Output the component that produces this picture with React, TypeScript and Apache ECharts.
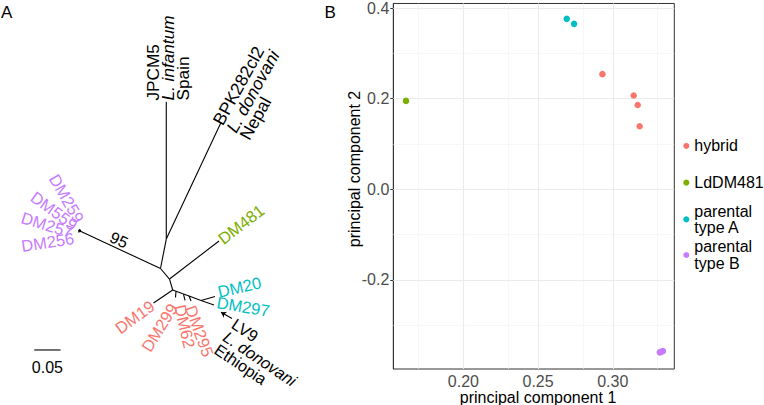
import React, { useEffect, useRef } from 'react';
import * as echarts from 'echarts';

const FONT = '"Liberation Sans", Arial, Helvetica, sans-serif';

// ---------------- Panel A: unrooted tree (branch-length units) ----------------
const treeNodeIds = ['root', 'n1', 'JPCM5', 'BPK282cl2', 'nB', 'n3', 'DM481', 'n4', 'DM19', 's1', 'DM299', 's2', 'DM62', 's3', 'DM295', 'n6', 'DM20', 'DM297', 'DM259', 'DM559', 'DM257', 'DM256'];
const treeNodeX = [0, 0.011, 0.011, 0.115, -0.1511, 0.0171, 0.1112, 0.0232, -0.0133, 0.0295, 0.0285, 0.0437, 0.0466, 0.0542, 0.058, 0.077, 0.1036, 0.1017, -0.154, -0.1557, -0.1565, -0.1567];
const treeNodeY = [0, 0.056, 0.317, 0.2776, 0.0703, -0.02, 0.0523, -0.0409, -0.0656, -0.0431, -0.0551, -0.0485, -0.0608, -0.0523, -0.0618, -0.0608, -0.0532, -0.0694, 0.0752, 0.0737, 0.072, 0.0695];
const treeEdges: [string, string][] = [
  ['root', 'n1'], ['n1', 'JPCM5'], ['n1', 'BPK282cl2'], ['root', 'nB'], ['root', 'n3'],
  ['n3', 'DM481'], ['n3', 'n4'], ['n4', 'DM19'], ['n4', 's1'], ['s1', 'DM299'], ['s1', 's2'],
  ['s2', 'DM62'], ['s2', 's3'], ['s3', 'DM295'], ['s3', 'n6'], ['n6', 'DM20'], ['n6', 'DM297'],
  ['nB', 'DM259'], ['nB', 'DM559'], ['nB', 'DM257'], ['nB', 'DM256'],
];
// LV9 branch (drawn with an arrow head)
const lv9BranchX = [0.115, 0.1359];
const lv9BranchY = [-0.0833, -0.0951];

// tip labels
const tipText = [
  'JPCM5\n{i|L. infantum}\nSpain',
  'BPK282cl2\n{i|L. donovani}\nNepal',
  'DM481', 'DM259', 'DM559', 'DM257', 'DM256',
  'DM19', 'DM299', 'DM62', 'DM295', 'DM20', 'DM297',
  'LV9\n{i|L. donovani}\nEthiopia',
];
const tipGroup = ['ref', 'ref', 'LdDM481', 'B', 'B', 'B', 'B', 'hybrid', 'hybrid', 'hybrid', 'hybrid', 'A', 'A', 'ref'];
const tipX = [0.0143, 0.134, 0.1131, -0.153, -0.1612, -0.1673, -0.1644, -0.0152, 0.0247, 0.0371, 0.057, 0.1093, 0.1074, 0.1226];
const tipY = [0.3194, 0.2614, 0.0532, 0.0894, 0.08, 0.0684, 0.058, -0.0675, -0.0694, -0.0694, -0.0713, -0.0447, -0.0637, -0.1264];
const tipAngle = [90, 61, 37.5, -60, -36, -17, 8.6, 36, 58, -77, -70, 13, -9.5, -34];
const tipAlign = ['left', 'left', 'left', 'right', 'right', 'right', 'right', 'right', 'right', 'left', 'left', 'left', 'left', 'left'];
const tipFontSize = [17.2, 17.5, 16.5, 16.5, 16.5, 16.5, 16.5, 16.5, 16.5, 16.5, 16.5, 16.5, 16.5, 16.3];

// bootstrap support
const supportText = ['95'];
const supportX = [-0.0789];
const supportY = [0.0542];
const supportAngle = [-25];

// scale bar
const scaleBarLength = 0.05;
const scaleBarX = -0.24;
const scaleBarY = -0.1549;
const scaleBarLabel = '0.05';

// ---------------- Panel B: PCA ----------------
const groupNames = ['hybrid', 'LdDM481', 'parental type A', 'parental type B'];
const groupLegend = ['hybrid', 'LdDM481', 'parental\ntype A', 'parental\ntype B'];
const hybridPC1 = [0.2931, 0.314, 0.3167, 0.318];
const hybridPC2 = [0.254, 0.207, 0.186, 0.139];
const ld481PC1 = [0.1616];
const ld481PC2 = [0.195];
const typeAPC1 = [0.2692, 0.2741];
const typeAPC2 = [0.376, 0.365];
const typeBPC1 = [0.3315, 0.3322, 0.333, 0.3336];
const typeBPC2 = [-0.36, -0.359, -0.358, -0.357];
const pc1Ticks = [0.2, 0.25, 0.3];
const pc1Minor = [0.175, 0.225, 0.275, 0.325];
const pc2Ticks = [-0.2, 0.0, 0.2, 0.4];
const pc2Minor = [-0.3, -0.1, 0.1, 0.3];

const groupColor: Record<string, string> = {
  hybrid: '#F8766D', LdDM481: '#7CAE00', A: '#00BFC4', B: '#C77CFF', ref: '#000000',
};
const seriesColors = ['#F8766D', '#7CAE00', '#00BFC4', '#C77CFF'];
const legendTops = [137.6, 174.3, 202.7, 238.3];

function zip(a: number[], b: number[]) {
  return a.map((v, i) => [v, b[i]]);
}

export default function App() {
  const ref = useRef<HTMLDivElement>(null);
  useEffect(() => {
    if (!ref.current) return;
    const chart = echarts.init(ref.current, undefined, { renderer: 'svg' });
    const idx = (id: string) => treeNodeIds.indexOf(id);
    const edgeData = treeEdges.map(([a, b]) => [treeNodeX[idx(a)], treeNodeY[idx(a)], treeNodeX[idx(b)], treeNodeY[idx(b)]]);
    const tipData = tipX.map((x, i) => [x, tipY[i], tipAngle[i]]);
    const supportData = supportX.map((x, i) => [x, supportY[i], supportAngle[i]]);

    const pcData = [zip(hybridPC1, hybridPC2), zip(ld481PC1, ld481PC2), zip(typeAPC1, typeAPC2), zip(typeBPC1, typeBPC2)];

    const gridLines = [
      ...pc1Ticks.map((v) => ({ xAxis: v, lineStyle: { color: '#ebebeb', width: 1.1, type: 'solid' } })),
      ...pc1Minor.map((v) => ({ xAxis: v, lineStyle: { color: '#f2f2f2', width: 0.6, type: 'solid' } })),
      ...pc2Ticks.map((v) => ({ yAxis: v, lineStyle: { color: '#ebebeb', width: 1.1, type: 'solid' } })),
      ...pc2Minor.map((v) => ({ yAxis: v, lineStyle: { color: '#f2f2f2', width: 0.6, type: 'solid' } })),
    ];

    const legends = groupNames.map((name, i) => ({
      data: [name],
      orient: 'vertical',
      left: 683.3,
      top: legendTops[i],
      padding: 0,
      itemWidth: 6,
      itemHeight: 6,
      icon: 'circle',
      selectedMode: false,
      formatter: () => groupLegend[i],
      textStyle: { color: '#000', fontSize: 16, fontFamily: FONT, lineHeight: 16.7 },
    }));

    const option: any = {
      animation: false,
      textStyle: { fontFamily: FONT },
      grid: [
        { left: 0, top: 0, width: 330, height: 405, show: false },
        { left: 393.3, top: 1.7, width: 281, height: 367.3, show: true, borderColor: '#333', borderWidth: 1, backgroundColor: '#fff' },
      ],
      xAxis: [
        { gridIndex: 0, type: 'value', min: -0.3051, max: 0.3222, show: false },
        {
          gridIndex: 1, type: 'value', min: 0.1531, max: 0.3412,
          axisLine: { show: true, lineStyle: { color: '#333', width: 1 } },
          axisTick: { show: true, customValues: pc1Ticks, length: 3, lineStyle: { color: '#333' } },
          axisLabel: { customValues: pc1Ticks, formatter: (v: number) => v.toFixed(2), fontSize: 16, lineHeight: 14, color: '#4d4d4d', margin: 5, fontFamily: FONT },
          splitLine: { show: false },
        },
      ],
      yAxis: [
        { gridIndex: 0, type: 'value', min: -0.2595, max: 0.5105, show: false },
        {
          gridIndex: 1, type: 'value', min: -0.3967, max: 0.41,
          axisLine: { show: true, lineStyle: { color: '#333', width: 1 } },
          axisTick: { show: true, customValues: pc2Ticks, length: 3, lineStyle: { color: '#333' } },
          axisLabel: { customValues: pc2Ticks, formatter: (v: number) => v.toFixed(1), fontSize: 16, color: '#4d4d4d', margin: 4, fontFamily: FONT },
          splitLine: { show: false },
        },
      ],
      legend: legends,
      graphic: [
        { type: 'text', left: 1, top: 4, style: { text: 'A', fontSize: 17, fontFamily: FONT, fill: '#000' } },
        { type: 'text', left: 324.5, top: 4, style: { text: 'B', fontSize: 17, fontFamily: FONT, fill: '#000' } },
        { type: 'text', x: 538, y: 397, style: { text: 'principal component 1', fontSize: 16, fontFamily: FONT, fill: '#000', align: 'center', verticalAlign: 'middle', lineHeight: 14 } },
        { type: 'text', x: 354, y: 169, rotation: Math.PI / 2, style: { text: 'principal component 2', fontSize: 16, fontFamily: FONT, fill: '#000', align: 'center', verticalAlign: 'middle' } },
      ],
      series: [
        {
          type: 'custom', name: 'tree', xAxisIndex: 0, yAxisIndex: 0, silent: true,
          data: edgeData, encode: { x: [0, 2], y: [1, 3] },
          renderItem: (_p: any, api: any) => {
            const a = api.coord([api.value(0), api.value(1)]);
            const b = api.coord([api.value(2), api.value(3)]);
            return { type: 'line', shape: { x1: a[0], y1: a[1], x2: b[0], y2: b[1] }, style: { stroke: '#000', lineWidth: 1.1 } };
          },
        },
        {
          type: 'lines', name: 'lv9', coordinateSystem: 'cartesian2d', xAxisIndex: 0, yAxisIndex: 0, silent: true,
          symbol: ['arrow', 'none'], symbolSize: [5, 0],
          lineStyle: { color: '#000', width: 1.1, opacity: 1 },
          data: [{ coords: [[lv9BranchX[0], lv9BranchY[0]], [lv9BranchX[1], lv9BranchY[1]]] }],
        },
        {
          type: 'custom', name: 'tips', xAxisIndex: 0, yAxisIndex: 0, silent: true,
          data: tipData, encode: { x: 0, y: 1 },
          renderItem: (params: any, api: any) => {
            const i = params.dataIndex;
            const p = api.coord([api.value(0), api.value(1)]);
            const fill = groupColor[tipGroup[i]];
            const fs = tipFontSize[i];
            return {
              type: 'text', x: p[0], y: p[1], rotation: (api.value(2) * Math.PI) / 180,
              style: {
                text: tipText[i], fill, fontSize: fs, fontFamily: FONT,
                align: tipAlign[i], verticalAlign: 'middle', lineHeight: 15.3,
                rich: { i: { fill, fontSize: fs, fontFamily: FONT, fontStyle: 'italic', lineHeight: 15.3 } },
              },
            };
          },
        },
        {
          type: 'custom', name: 'support', xAxisIndex: 0, yAxisIndex: 0, silent: true,
          data: supportData, encode: { x: 0, y: 1 },
          renderItem: (params: any, api: any) => {
            const p = api.coord([api.value(0), api.value(1)]);
            return {
              type: 'text', x: p[0], y: p[1], rotation: (api.value(2) * Math.PI) / 180,
              style: { text: supportText[params.dataIndex], fill: '#000', fontSize: 16, fontFamily: FONT, align: 'center', verticalAlign: 'middle' },
            };
          },
        },
        {
          type: 'custom', name: 'scalebar', xAxisIndex: 0, yAxisIndex: 0, silent: true,
          data: [[scaleBarX, scaleBarY, scaleBarX + scaleBarLength]], encode: { x: [0, 2], y: 1 },
          renderItem: (_p: any, api: any) => {
            const a = api.coord([api.value(0), api.value(1)]);
            const b = api.coord([api.value(2), api.value(1)]);
            return {
              type: 'group',
              children: [
                { type: 'line', shape: { x1: a[0], y1: a[1], x2: b[0], y2: b[1] }, style: { stroke: '#000', lineWidth: 1.1 } },
                { type: 'text', x: (a[0] + b[0]) / 2, y: a[1] + 17.5, style: { text: scaleBarLabel, fill: '#000', fontSize: 16, fontFamily: FONT, align: 'center', verticalAlign: 'middle' } },
              ],
            };
          },
        },
        {
          type: 'scatter', name: 'grid-lines', xAxisIndex: 1, yAxisIndex: 1, data: [], silent: true,
          markLine: { silent: true, z: 1, symbol: ['none', 'none'], label: { show: false }, data: gridLines, animation: false },
        },
        ...groupNames.map((name, i) => ({
          type: 'scatter', name, xAxisIndex: 1, yAxisIndex: 1, z: 3, silent: true,
          symbol: 'circle', symbolSize: 6.5,
          itemStyle: { color: seriesColors[i], opacity: 1 },
          data: pcData[i],
        })),
      ],
    };
    chart.setOption(option);
    return () => chart.dispose();
  }, []);
  return <div ref={ref} style={{ position: 'fixed', left: 0, top: 0, width: 764, height: 405, background: '#fff' }} />;
}
